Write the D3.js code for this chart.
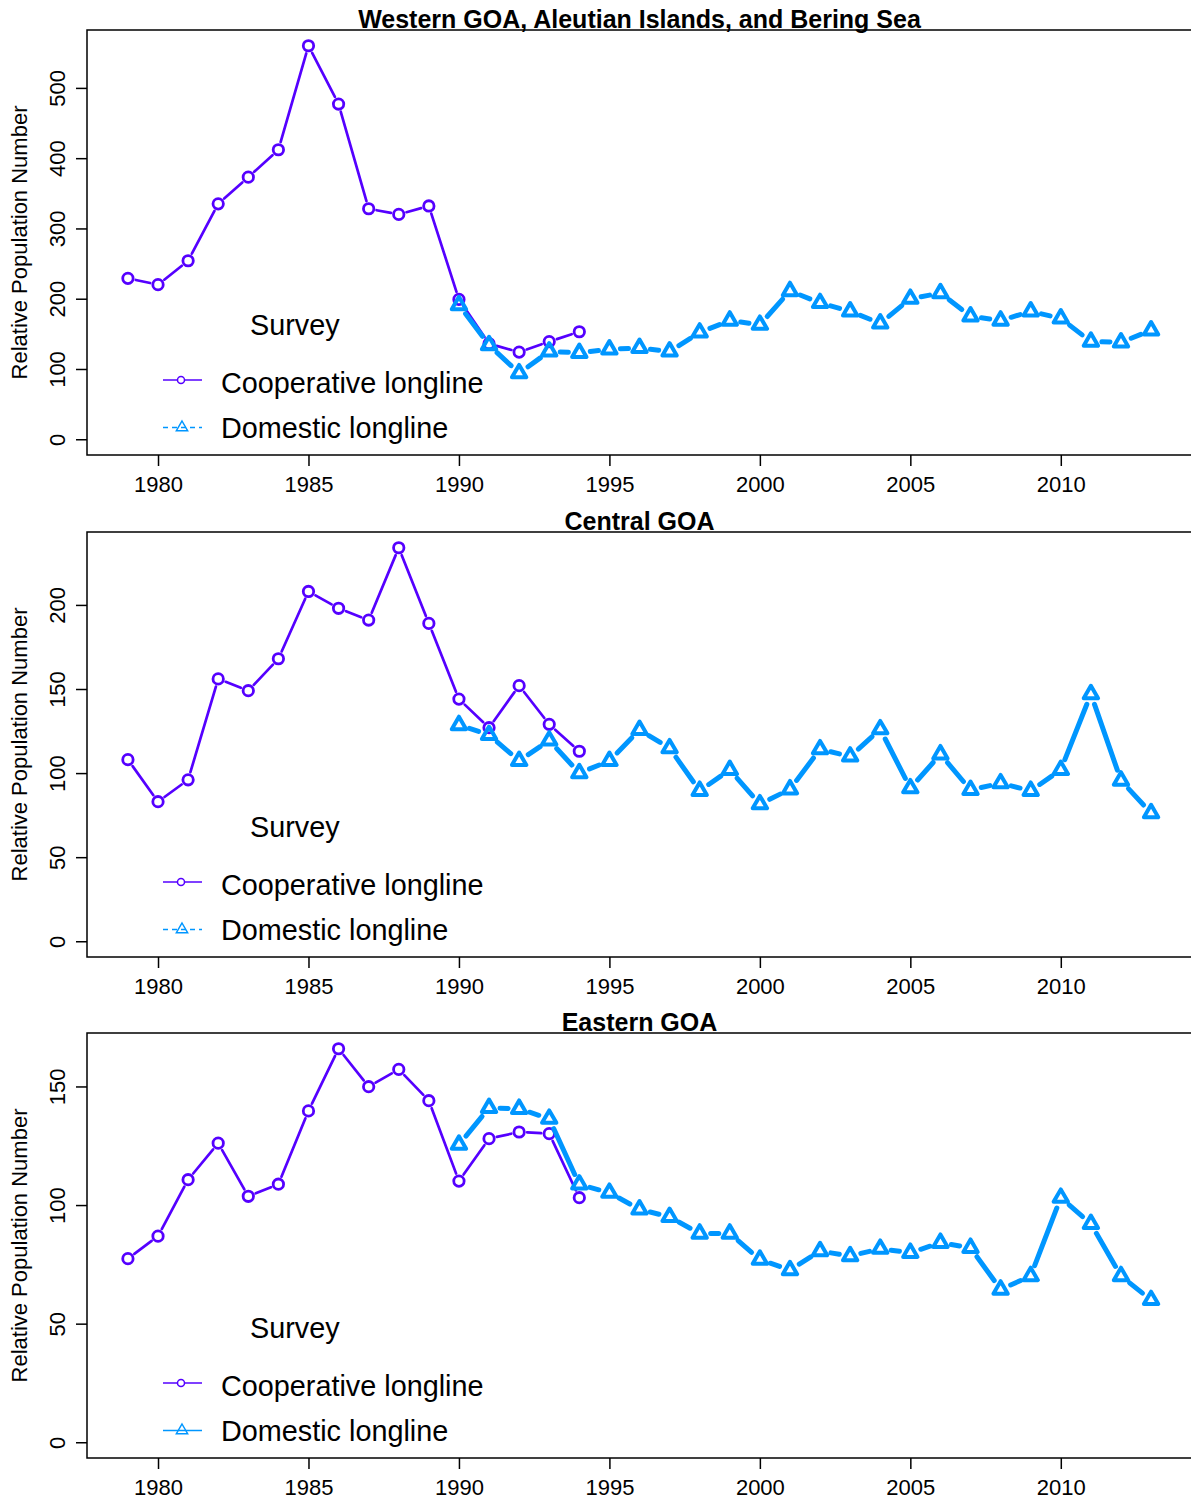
<!DOCTYPE html>
<html><head><meta charset="utf-8">
<script src="https://cdn.jsdelivr.net/npm/d3@7"></script>
<style>body{margin:0;background:#fff} svg{display:block;font-family:Arial,"Liberation Sans",sans-serif}</style>
</head><body><svg id="c" width="1191" height="1500"></svg>
<script>
// ---- data ----
const coopYears = [1979,1980,1981,1982,1983,1984,1985,1986,1987,1988,1989,1990,1991,1992,1993,1994];
const domYears = [1990,1991,1992,1993,1994,1995,1996,1997,1998,1999,2000,2001,2002,2003,2004,2005,2006,2007,2008,2009,2010,2011,2012,2013];
const titles = ["Western GOA, Aleutian Islands, and Bering Sea", "Central GOA", "Eastern GOA"];
const westCoop = [229,220,254,335,373,412,560,477,328,320,332,199,136,124,139,153];
const westDom = [191,134,94,125,123,128,130,125,152,169,163,211,194,182,165,200,208,175,169,182,172,139,138,155];
const centralCoop = [108,83,96,156,149,168,208,198,191,234,189,144,127,152,129,113];
const centralDom = [128.6,122.7,107.3,119.4,100,107.3,125.7,114.8,89.5,101.9,81.5,90.4,114.2,109.9,126.1,91,111.2,90,94,89.5,101.9,147,95.6,76.2];
const easternCoop = [77.4,86.9,110.7,126.1,103.7,108.8,139.7,165.9,149.9,157.2,144,110.1,128,130.8,130.1,103.1];
const easternDom = [125.5,141,140.6,136.4,108.7,105.2,98.2,95,88,88,77,72.6,80.6,78.5,81.6,79.9,84.1,82,64.4,70.1,103.1,92.1,70.1,60];
const xTicks = [1980,1985,1990,1995,2000,2005,2010];
const westTicks = [0,100,200,300,400,500];
const centralTicks = [0,50,100,150,200];
const easternTicks = [0,50,100,150];
const legendTitle = "Survey";
const seriesNames = ["Cooperative longline", "Domestic longline"];
const yTitle = "Relative Population Number";

// ---- styles ----
const COOP = "#5500ff", DOM = "#0096ff";
const svg = d3.select("#c");
const L = 87, R = 1192, H = 425;
const panels = [
  {title: titles[0], coop: westCoop, dom: westDom, ticks: westTicks, top: 30, dash: true},
  {title: titles[1], coop: centralCoop, dom: centralDom, ticks: centralTicks, top: 532, dash: true},
  {title: titles[2], coop: easternCoop, dom: easternDom, ticks: easternTicks, top: 1033, dash: false}
];
const triR = 8.3;
function triPath(r){
  const xc = r*0.866, yc = r*0.5;
  return `M0,${-r}L${xc},${yc}L${-xc},${yc}Z`;
}
function gapSegs(pts, gap){
  const segs = [];
  for (let i=0;i<pts.length-1;i++){
    const [x1,y1]=pts[i],[x2,y2]=pts[i+1];
    const dx=x2-x1, dy=y2-y1, d=Math.hypot(dx,dy);
    if (d<=2*gap) continue;
    const ux=dx/d, uy=dy/d;
    segs.push([x1+ux*gap,y1+uy*gap,x2-ux*gap,y2-uy*gap]);
  }
  return segs;
}

const xMin = d3.min(coopYears), xMax = d3.max(domYears), xPad = 0.04*(xMax-xMin);
panels.forEach(p=>{
  const top = p.top, bottom = top+H;
  const g = svg.append("g");
  const x = d3.scaleLinear().domain([xMin-xPad, xMax+xPad]).range([L, R]);
  const mx = d3.max(p.coop.concat(p.dom));
  const y = d3.scaleLinear().domain([-0.04*mx, 1.04*mx]).range([bottom, top]);

  // x axis
  const xa = g.append("g").attr("transform",`translate(0,${bottom})`)
    .call(d3.axisBottom(x).tickValues(xTicks).tickSize(11).tickPadding(10).tickFormat(d3.format("d")));
  xa.select(".domain").remove();
  xa.selectAll("line").attr("stroke","#000").attr("stroke-width",1.5);
  xa.selectAll("text").attr("font-size",22).attr("fill","#000").attr("font-family","Arial, 'Liberation Sans', sans-serif");

  // y axis
  const ya = g.append("g").attr("transform",`translate(${L},0)`)
    .call(d3.axisLeft(y).tickValues(p.ticks).tickSize(11).tickFormat(d3.format("d")));
  ya.select(".domain").remove();
  ya.selectAll("line").attr("stroke","#000").attr("stroke-width",1.5);
  ya.selectAll("text").attr("font-size",22).attr("fill","#000")
    .attr("font-family","Arial, 'Liberation Sans', sans-serif")
    .attr("text-anchor","middle").attr("x",null).attr("dy",null)
    .attr("transform","translate(-22,0) rotate(-90)");

  // box
  g.append("rect").attr("x",L).attr("y",top).attr("width",R-L).attr("height",H)
    .attr("fill","none").attr("stroke","#000").attr("stroke-width",1.5);

  // title
  g.append("text").attr("x",(L+R)/2).attr("y",top-2).attr("text-anchor","middle")
    .attr("font-size",25).attr("font-weight","bold").text(p.title);

  // y title
  g.append("text").attr("transform",`translate(27,${(top+bottom)/2}) rotate(-90)`)
    .attr("text-anchor","middle").attr("font-size",22).text(yTitle);

  // coop series
  const cp = coopYears.map((yr,i)=>[x(yr), y(p.coop[i])]);
  g.append("g").selectAll("line").data(gapSegs(cp, 8)).join("line")
    .attr("x1",d=>d[0]).attr("y1",d=>d[1]).attr("x2",d=>d[2]).attr("y2",d=>d[3])
    .attr("stroke",COOP).attr("stroke-width",2.7).attr("stroke-linecap","round");
  g.append("g").selectAll("circle").data(cp).join("circle")
    .attr("cx",d=>d[0]).attr("cy",d=>d[1]).attr("r",5.2)
    .attr("fill","none").attr("stroke",COOP).attr("stroke-width",2.8);

  // domestic series
  const dp = domYears.map((yr,i)=>[x(yr), y(p.dom[i])]);
  g.append("g").selectAll("line").data(gapSegs(dp, 11)).join("line")
    .attr("x1",d=>d[0]).attr("y1",d=>d[1]).attr("x2",d=>d[2]).attr("y2",d=>d[3])
    .attr("stroke",DOM).attr("stroke-width",5).attr("stroke-linecap","round");
  g.append("g").selectAll("path").data(dp).join("path")
    .attr("transform",d=>`translate(${d[0]},${d[1]})`).attr("d",triPath(triR))
    .attr("fill","none").attr("stroke",DOM).attr("stroke-width",4).attr("stroke-linejoin","round");

  // legend
  const lg = g.append("g");
  lg.append("text").attr("x",250).attr("y",top+305).attr("font-size",28.8).text(legendTitle);
  lg.append("line").attr("x1",163).attr("x2",202).attr("y1",top+350).attr("y2",top+350)
    .attr("stroke",COOP).attr("stroke-width",1.5);
  lg.append("circle").attr("cx",181).attr("cy",top+350).attr("r",3.5)
    .attr("fill","#fff").attr("stroke",COOP).attr("stroke-width",1.5);
  lg.append("text").attr("x",221).attr("y",top+363).attr("font-size",28.8).text(seriesNames[0]);
  lg.append("line").attr("x1",163).attr("x2",202).attr("y1",top+397.5).attr("y2",top+397.5)
    .attr("stroke",DOM).attr("stroke-width",1.5).attr("stroke-dasharray",p.dash?"5,4":null);
  lg.append("path").attr("transform",`translate(182,${top+397.5})`).attr("d",triPath(6.5))
    .attr("fill","none").attr("stroke",DOM).attr("stroke-width",1.5);
  lg.append("text").attr("x",221).attr("y",top+408).attr("font-size",28.8).text(seriesNames[1]);
});
</script></body></html>
